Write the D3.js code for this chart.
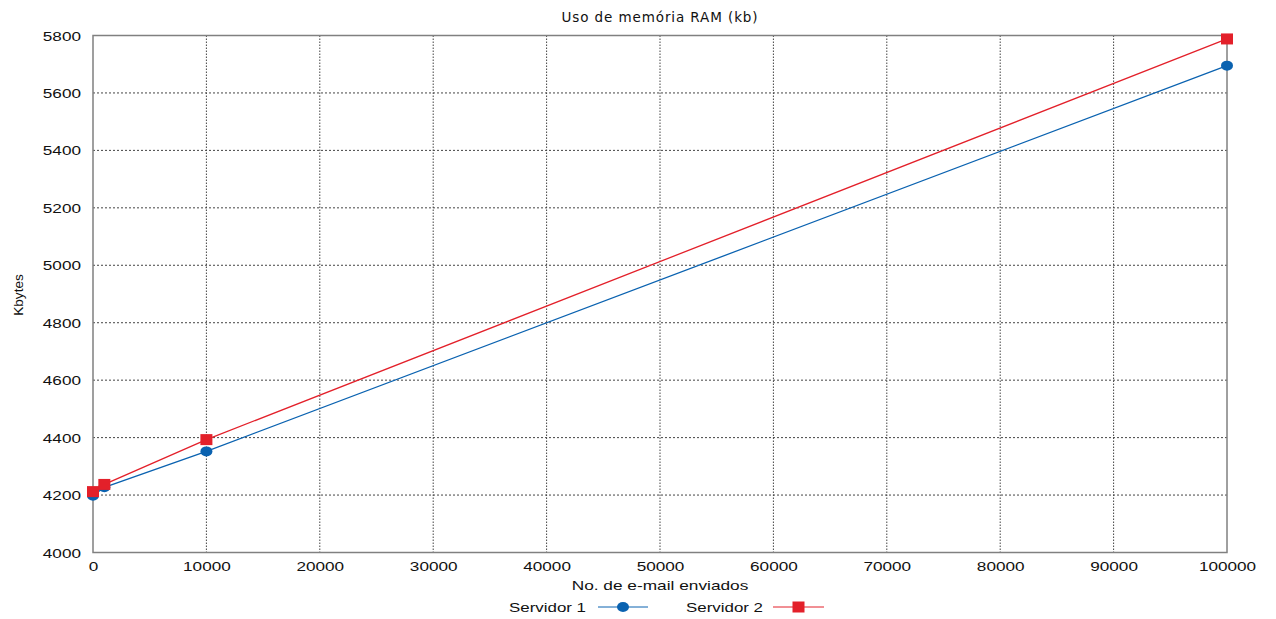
<!DOCTYPE html>
<html>
<head>
<meta charset="utf-8">
<script src="https://cdn.jsdelivr.net/npm/d3@7"></script>
<style>
  html, body { margin: 0; padding: 0; background: #fff; }
  svg { display: block; }
  text { font-family: "Liberation Sans", Arial, sans-serif; fill: #111; }
  text.title { font-family: "DejaVu Sans", sans-serif; }
</style>
</head>
<body>
<svg id="chart" width="1276" height="619"></svg>
<script>
// Emails sent (x) and RAM usage in kB for each server
const emails = [0, 1000, 10000, 100000];
const servidor1 = [4198, 4227, 4352, 5695];
const servidor2 = [4212, 4237, 4393, 5788];
const xTicks = [0, 10000, 20000, 30000, 40000, 50000, 60000, 70000, 80000, 90000, 100000];
const yTicks = [4000, 4200, 4400, 4600, 4800, 5000, 5200, 5400, 5600, 5800];
const seriesNames = ["Servidor 1", "Servidor 2"];

const svg = d3.select("#chart");
const plotLeft = 93, plotRight = 1227, plotTop = 35.5, plotBottom = 552.5;

const x = d3.scaleLinear().domain([0, 100000]).range([plotLeft, plotRight]);
const y = d3.scaleLinear().domain([4000, 5800]).range([plotBottom, plotTop]);

const colors = ["#0a62b0", "#e3202a"];

// grid
const grid = svg.append("g");
grid.selectAll("line.v").data(xTicks.slice(1, -1)).join("line")
  .attr("x1", d => x(d)).attr("x2", d => x(d))
  .attr("y1", plotTop).attr("y2", plotBottom)
  .attr("stroke", "#444").attr("stroke-width", 1).attr("stroke-dasharray", "1.5,1.5");
grid.selectAll("line.h").data(yTicks.slice(1, -1)).join("line")
  .attr("x1", plotLeft).attr("x2", plotRight)
  .attr("y1", d => y(d)).attr("y2", d => y(d))
  .attr("stroke", "#444").attr("stroke-width", 1).attr("stroke-dasharray", "2,2");

// frame
svg.append("rect")
  .attr("x", plotLeft).attr("y", plotTop)
  .attr("width", plotRight - plotLeft).attr("height", plotBottom - plotTop)
  .attr("fill", "none").attr("stroke", "#808080").attr("stroke-width", 1.5);

// axes (labels only; frame drawn above)
const yAxis = svg.append("g").attr("transform", `translate(${plotLeft},0)`)
  .call(d3.axisLeft(y).tickValues(yTicks).tickSize(0).tickPadding(0).tickFormat(d3.format("d")));
yAxis.select(".domain").remove();
yAxis.selectAll("text")
  .attr("font-size", 13)
  .attr("fill", "#111")
  .attr("text-anchor", "end")
  .attr("dy", "0.35em")
  .attr("x", null)
  .attr("transform", "translate(-12,0) scale(1.32,1)");

const xAxis = svg.append("g").attr("transform", `translate(0,${plotBottom})`)
  .call(d3.axisBottom(x).tickValues(xTicks).tickSize(0).tickPadding(0).tickFormat(d3.format("d")));
xAxis.select(".domain").remove();
xAxis.selectAll("text")
  .attr("font-size", 13)
  .attr("fill", "#111")
  .attr("y", null).attr("dy", null)
  .attr("transform", "translate(0,18) scale(1.32,1)");

// titles
svg.append("text").attr("class", "title")
  .attr("x", 660).attr("y", 22).attr("text-anchor", "middle")
  .attr("font-size", 13.5).attr("letter-spacing", 0.9)
  .text("Uso de memória RAM (kb)");
svg.append("text").attr("text-anchor", "middle")
  .attr("transform", "translate(23,295) rotate(-90) scale(1.05,1)")
  .attr("font-size", 13).text("Kbytes");
svg.append("text").attr("text-anchor", "middle")
  .attr("transform", "translate(660,590) scale(1.33,1)")
  .attr("font-size", 13).text("No. de e-mail enviados");

// series
const line = d3.line().x(d => x(d[0])).y(d => y(d[1]));
const data = [servidor1, servidor2].map(s => emails.map((e, i) => [e, s[i]]));

data.forEach((pts, k) => {
  svg.append("path").datum(pts)
    .attr("d", line).attr("fill", "none")
    .attr("stroke", colors[k]).attr("stroke-width", 1.3);
});
// circles for Servidor 1
svg.append("g").selectAll("ellipse").data(data[0]).join("ellipse")
  .attr("cx", d => x(d[0])).attr("cy", d => y(d[1]))
  .attr("rx", 6).attr("ry", 5).attr("fill", colors[0]);
// squares for Servidor 2
svg.append("g").selectAll("rect").data(data[1]).join("rect")
  .attr("x", d => x(d[0]) - 6).attr("y", d => y(d[1]) - 5.5)
  .attr("width", 12).attr("height", 11).attr("fill", colors[1]);

// legend
const legend = [
  { name: seriesNames[0], tx: 586, lx1: 598, lx2: 648, mark: "circle" },
  { name: seriesNames[1], tx: 763, lx1: 773, lx2: 824, mark: "square" }
];
const ly = 607;
legend.forEach((l, k) => {
  svg.append("text").attr("text-anchor", "end")
    .attr("transform", `translate(${l.tx},${ly + 5}) scale(1.3,1)`)
    .attr("font-size", 13).text(l.name);
  svg.append("line").attr("x1", l.lx1).attr("x2", l.lx2).attr("y1", ly).attr("y2", ly)
    .attr("stroke", colors[k]).attr("stroke-width", 1);
  const cx = (l.lx1 + l.lx2) / 2;
  if (l.mark === "circle") {
    svg.append("ellipse").attr("cx", cx).attr("cy", ly).attr("rx", 6).attr("ry", 5).attr("fill", colors[k]);
  } else {
    svg.append("rect").attr("x", cx - 6).attr("y", ly - 5.5).attr("width", 12).attr("height", 11).attr("fill", colors[k]);
  }
});
</script>
</body>
</html>
